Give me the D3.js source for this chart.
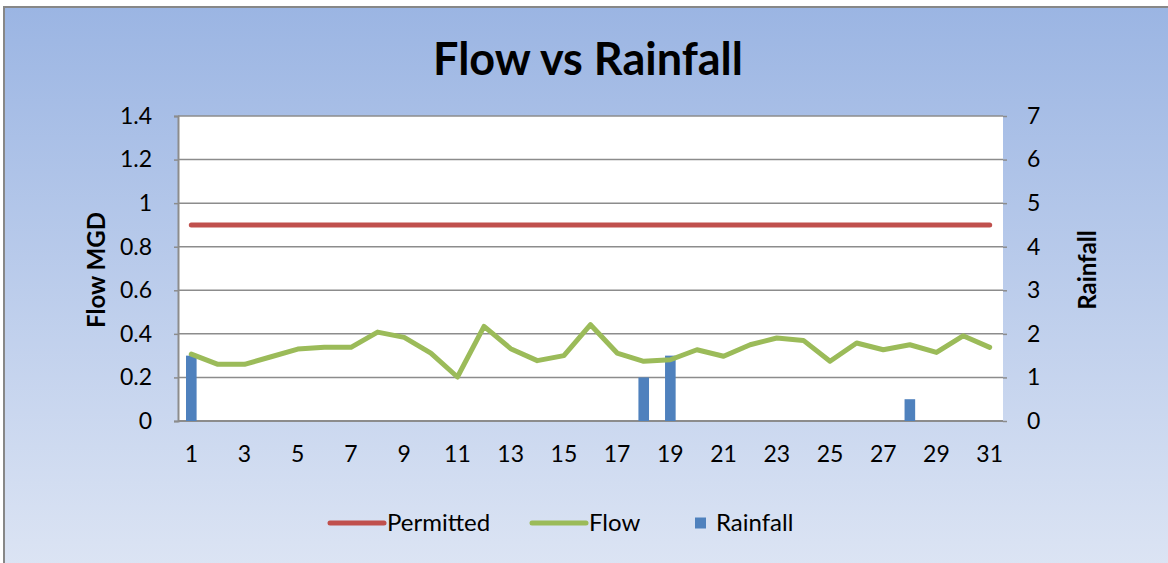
<!DOCTYPE html>
<html>
<head>
<meta charset="utf-8">
<script src="https://cdn.jsdelivr.net/npm/d3@7"></script>
<style>
  body { margin: 0; background: #fff; }
  text { font-family: Lato, "Open Sans", sans-serif; fill: #000; }
</style>
</head>
<body>
<svg id="chart" width="1168" height="563"></svg>
<script>
// data
const days = d3.range(1, 32);
const flow = [0.307, 0.26, 0.26, 0.295, 0.33, 0.338, 0.338, 0.408, 0.384, 0.312,
              0.202, 0.434, 0.332, 0.277, 0.30, 0.442, 0.312, 0.274, 0.281, 0.327,
              0.297, 0.35, 0.381, 0.37, 0.274, 0.358, 0.327, 0.35, 0.315, 0.391, 0.338];
const permitted = days.map(() => 0.9);
const rainfall = days.map(d => d === 1 ? 1.5 : d === 18 ? 1.0 : d === 19 ? 1.5 : d === 28 ? 0.5 : 0);
const flowTicks = [0, 0.2, 0.4, 0.6, 0.8, 1, 1.2, 1.4];
const rainTicks = [0, 1, 2, 3, 4, 5, 6, 7];

const svg = d3.select("#chart");
const plot = { left: 178, right: 1003, top: 116, bottom: 421 };

// background gradient
const grad = svg.append("defs").append("linearGradient")
  .attr("id", "bg").attr("x1", 0).attr("y1", 0).attr("x2", 0).attr("y2", 1);
grad.append("stop").attr("offset", "0%").attr("stop-color", "#9bb5e3");
grad.append("stop").attr("offset", "100%").attr("stop-color", "#dde5f4");

svg.append("rect")
  .attr("x", 4).attr("y", 7).attr("width", 1170).attr("height", 570)
  .attr("fill", "url(#bg)").attr("stroke", "#878787").attr("stroke-width", 2);

svg.append("rect")
  .attr("x", plot.left).attr("y", plot.top)
  .attr("width", plot.right - plot.left).attr("height", plot.bottom - plot.top)
  .attr("fill", "#fff");

const x = d3.scaleBand().domain(days).range([plot.left, plot.right]);
const yFlow = d3.scaleLinear().domain([0, 1.4]).range([plot.bottom, plot.top]);
const yRain = d3.scaleLinear().domain([0, 7]).range([plot.bottom, plot.top]);
const cx = d => x(d) + x.bandwidth() / 2;

// gridlines
svg.append("g").selectAll("line")
  .data(flowTicks.slice(1))
  .enter().append("line")
  .attr("x1", plot.left).attr("x2", plot.right)
  .attr("y1", d => yFlow(d)).attr("y2", d => yFlow(d))
  .attr("stroke", "#8c8c8c").attr("stroke-width", 1.5);

// left axis
const leftAxis = svg.append("g")
  .attr("transform", `translate(${plot.left},0)`)
  .call(d3.axisLeft(yFlow).tickValues(flowTicks).tickSize(4).tickPadding(22)
    .tickFormat(d => String(+d.toFixed(1))));
// right axis
const rightAxis = svg.append("g")
  .attr("transform", `translate(${plot.right},0)`)
  .call(d3.axisRight(yRain).tickValues(rainTicks).tickSize(4).tickPadding(20)
    .tickFormat(d => String(d)));
// bottom axis
const bottomAxis = svg.append("g")
  .attr("transform", `translate(0,${plot.bottom})`)
  .call(d3.axisBottom(x).tickValues(days.filter(d => d % 2 === 1)).tickSize(0).tickPadding(25));

[leftAxis, rightAxis, bottomAxis].forEach(g => {
  g.selectAll("path.domain").attr("stroke", "#8c8c8c").attr("stroke-width", 2);
  g.selectAll(".tick line").attr("stroke", "#8c8c8c").attr("stroke-width", 1.5);
  g.selectAll("text").style("font-size", "23px").style("font-family", "Lato, sans-serif");
});
rightAxis.select("path.domain").remove();
bottomAxis.select("path.domain").attr("d", `M${plot.left},0H${plot.right}`);

// rainfall bars
svg.append("g").selectAll("rect")
  .data(days.map((d, i) => ({ d, v: rainfall[i] })).filter(o => o.v > 0))
  .enter().append("rect")
  .attr("x", o => cx(o.d) - 5.3)
  .attr("width", 10.6)
  .attr("y", o => yRain(o.v))
  .attr("height", o => yRain(0) - yRain(o.v))
  .attr("fill", "#4f81bd");

const line = d3.line().x((v, i) => cx(days[i])).y(v => yFlow(v));

svg.append("path").datum(permitted)
  .attr("d", line).attr("fill", "none")
  .attr("stroke", "#c0504d").attr("stroke-width", 5).attr("stroke-linecap", "round");

svg.append("path").datum(flow)
  .attr("d", line).attr("fill", "none")
  .attr("stroke", "#9bbb59").attr("stroke-width", 5)
  .attr("stroke-linejoin", "round").attr("stroke-linecap", "round");

// titles
svg.append("text")
  .attr("x", 588).attr("y", 75).attr("text-anchor", "middle")
  .style("font-size", "45px").style("font-weight", "bold")
  .text("Flow vs Rainfall");

svg.append("text")
  .attr("transform", "translate(105,270) rotate(-90)")
  .attr("text-anchor", "middle")
  .style("font-size", "24px").style("font-weight", "bold")
  .text("Flow MGD");

svg.append("text")
  .attr("transform", "translate(1096,270) rotate(-90)")
  .attr("text-anchor", "middle")
  .style("font-size", "24px").style("font-weight", "bold")
  .text("Rainfall");

// legend
const legend = svg.append("g").attr("transform", "translate(0,523)");
const items = [
  { name: "Permitted", color: "#c0504d", type: "line", x: 330 },
  { name: "Flow", color: "#9bbb59", type: "line", x: 532 },
  { name: "Rainfall", color: "#4f81bd", type: "rect", x: 695 }
];
items.forEach(it => {
  if (it.type === "line") {
    legend.append("line")
      .attr("x1", it.x).attr("x2", it.x + 54).attr("y1", 0).attr("y2", 0)
      .attr("stroke", it.color).attr("stroke-width", 5).attr("stroke-linecap", "round");
    legend.append("text").attr("x", it.x + 57).attr("y", 8)
      .style("font-size", "24px").text(it.name);
  } else {
    legend.append("rect").attr("x", it.x).attr("y", -5.5).attr("width", 11).attr("height", 11)
      .attr("fill", it.color);
    legend.append("text").attr("x", it.x + 21).attr("y", 8)
      .style("font-size", "24px").text(it.name);
  }
});
</script>
</body>
</html>
